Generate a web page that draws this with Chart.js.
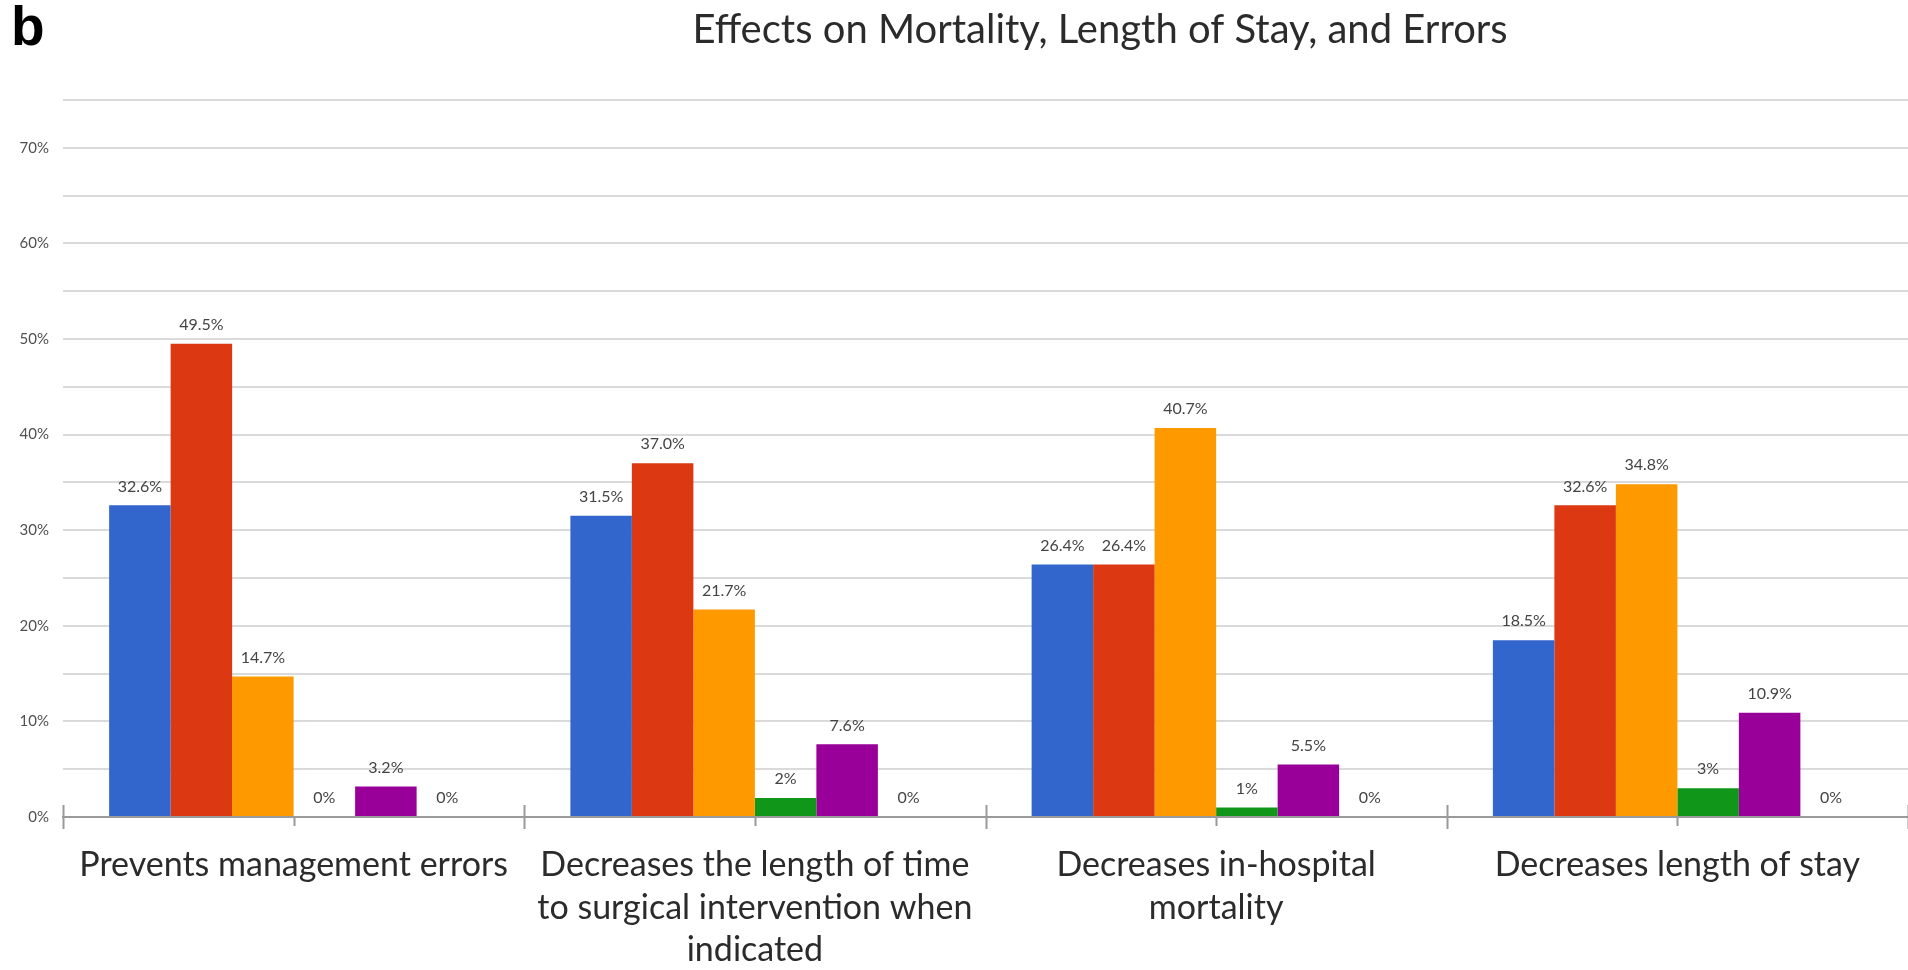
<!DOCTYPE html>
<html>
<head>
<meta charset="utf-8">
<script src="https://cdn.jsdelivr.net/npm/chart.js@4.4.1/dist/chart.umd.min.js"></script>
<style>
  html, body { margin: 0; padding: 0; background: #ffffff; }
  #chart { display: block; }
</style>
</head>
<body>
<canvas id="chart" width="1908" height="970"></canvas>
<script>
// Categories along the x axis (multi-line labels as arrays)
const categories = [
  'Prevents management errors',
  ['Decreases the length of time', 'to surgical intervention when', 'indicated'],
  ['Decreases in-hospital', 'mortality'],
  'Decreases length of stay'
];

// Percent of respondents, one array per response series
const series1 = [32.6, 31.5, 26.4, 18.5];
const series2 = [49.5, 37.0, 26.4, 32.6];
const series3 = [14.7, 21.7, 40.7, 34.8];
const series4 = [0, 2, 1, 3];
const series5 = [3.2, 7.6, 5.5, 10.9];
const series6 = [0, 0, 0, 0];

const seriesNames = ['Series 1', 'Series 2', 'Series 3', 'Series 4', 'Series 5', 'Series 6'];
const seriesColors = ['#3366CC', '#DC3912', '#FF9900', '#109618', '#990099', '#0099C6'];
// decimals shown in each series' value labels
const labelDecimals = [1, 1, 1, 0, 1, 0];

// y axis tick labels (every 10%), gridlines every 5%
const yTickValues = [0, 10, 20, 30, 40, 50, 60, 70];
const yTickLabels = ['0%', '10%', '20%', '30%', '40%', '50%', '60%', '70%'];

const chartTitle = 'Effects on Mortality, Length of Stay, and Errors';
const panelLetter = 'b';

const allSeries = [series1, series2, series3, series4, series5, series6];

// Value labels above each bar
const valueLabels = {
  id: 'valueLabels',
  afterDatasetsDraw(chart) {
    const ctx = chart.ctx;
    ctx.save();
    ctx.font = '16px Lato, "Open Sans", sans-serif';
    ctx.fillStyle = '#444444';
    ctx.textAlign = 'center';
    ctx.textBaseline = 'middle';
    chart.data.datasets.forEach((ds, di) => {
      const meta = chart.getDatasetMeta(di);
      meta.data.forEach((bar, i) => {
        const v = ds.data[i];
        ctx.fillText(v.toFixed(labelDecimals[di]) + '%', bar.x, bar.y - 19);
      });
    });
    ctx.restore();
  }
};

// Category separators and centre ticks on the x axis
const axisTicks = {
  id: 'axisTicks',
  afterDraw(chart) {
    const x = chart.scales.x;
    const ctx = chart.ctx;
    const base = chart.chartArea.bottom;
    const n = chart.data.labels.length;
    const w = (x.right - x.left) / n;
    ctx.save();
    ctx.strokeStyle = '#9a9a9a';
    ctx.lineWidth = 2;
    ctx.beginPath();
    for (let i = 0; i <= n; i++) {
      const px = Math.round(x.left + i * w) + 0.5;
      ctx.moveTo(px, base - 12);
      ctx.lineTo(px, base + 12);
    }
    for (let i = 0; i < n; i++) {
      const px = Math.round(x.getPixelForValue(i)) + 0.5;
      ctx.moveTo(px, base);
      ctx.lineTo(px, base + 9);
    }
    ctx.stroke();
    ctx.restore();
  }
};

// Panel letter and title
const headings = {
  id: 'headings',
  afterDraw(chart) {
    const ctx = chart.ctx;
    ctx.save();
    ctx.textBaseline = 'alphabetic';
    ctx.fillStyle = '#000000';
    ctx.textAlign = 'left';
    ctx.font = 'bold 55px "Liberation Sans", Arial, sans-serif';
    ctx.fillText(panelLetter, 11, 45);
    ctx.fillStyle = '#2b2b2b';
    ctx.textAlign = 'center';
    ctx.font = '40px Lato, "Open Sans", sans-serif';
    ctx.fillText(chartTitle, 1100, 43);
    ctx.restore();
  }
};

new Chart(document.getElementById('chart'), {
  type: 'bar',
  data: {
    labels: categories,
    datasets: allSeries.map((d, i) => ({
      label: seriesNames[i],
      data: d,
      backgroundColor: seriesColors[i],
      borderWidth: 0,
      categoryPercentage: 0.8,
      barPercentage: 1.0
    }))
  },
  options: {
    responsive: false,
    animation: false,
    devicePixelRatio: 1,
    layout: { padding: { top: 100, left: 0, right: 0, bottom: 0 } },
    plugins: {
      legend: { display: false },
      tooltip: { enabled: false },
      title: { display: false }
    },
    scales: {
      x: {
        type: 'category',
        offset: true,
        grid: { display: false, drawTicks: false },
        border: { display: true, color: '#9a9a9a', width: 2 },
        ticks: {
          color: '#2b2b2b',
          font: { family: 'Lato, "Open Sans", sans-serif', size: 34, lineHeight: 1.25 },
          padding: 27,
          maxRotation: 0,
          minRotation: 0,
          autoSkip: false
        },
        afterFit(scale) { scale.height = 153; }
      },
      y: {
        min: 0,
        max: 75,
        border: { display: false },
        grid: {
          drawTicks: false,
          lineWidth: 2,
          color: (c) => (c.tick && c.tick.value === 0) ? '#9a9a9a' : '#dadada'
        },
        ticks: {
          stepSize: 5,
          padding: 14,
          color: '#505050',
          font: { family: 'Lato, "Open Sans", sans-serif', size: 15 },
          callback: (v) => {
            const k = yTickValues.indexOf(v);
            return k >= 0 ? yTickLabels[k] : '';
          }
        },
        afterFit(scale) { scale.width = 63; }
      }
    }
  },
  plugins: [valueLabels, axisTicks, headings]
});
</script>
</body>
</html>
